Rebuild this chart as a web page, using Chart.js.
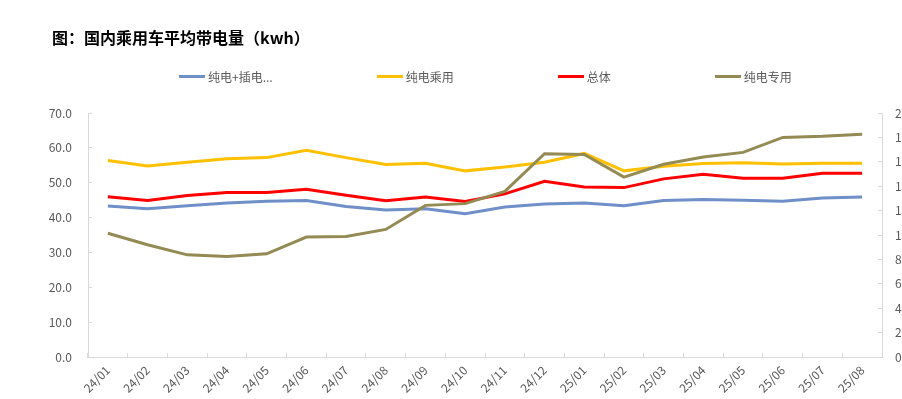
<!DOCTYPE html>
<html>
<head>
<meta charset="utf-8">
<script src="https://cdn.jsdelivr.net/npm/chart.js@4"></script>
<style>
  body { margin: 0; overflow: hidden; background: #fff; }
  #wrap { position: relative; width: 902px; height: 399px; }
  #title {
    position: absolute; left: 52px; top: 27px;
    font: bold 16px "Noto Sans CJK SC", sans-serif; color: #000; line-height: 20px;
  }
  #legend {
    position: absolute; left: 179px; top: 68px;
    display: flex; gap: 104px;
    font: 12px "Noto Sans CJK SC", sans-serif; color: #595959;
  }
  #legend .item { display: flex; align-items: center; white-space: nowrap; }
  #legend .swatch { width: 26px; height: 3px; margin-right: 3px; }
</style>
</head>
<body>
<div id="wrap">
  <canvas id="chart"></canvas>
  <div id="title">图：国内乘用车平均带电量（kwh）</div>
  <div id="legend"></div>
</div>
<script>
// months on the x axis
const categories = ['24/01', '24/02', '24/03', '24/04', '24/05', '24/06', '24/07', '24/08', '24/09', '24/10',
                    '24/11', '24/12', '25/01', '25/02', '25/03', '25/04', '25/05', '25/06', '25/07', '25/08'];

// average battery capacity, kwh
const bevPlusPhev = [43.3, 42.5, 43.4, 44.2, 44.7, 44.9, 43.2, 42.2, 42.5, 41.1,
                     43.0, 43.9, 44.2, 43.4, 44.9, 45.2, 45.0, 44.7, 45.6, 45.9];
const bevPassenger = [56.4, 54.8, 55.9, 56.9, 57.2, 59.3, 57.2, 55.2, 55.6, 53.4,
                      54.5, 55.9, 58.4, 53.4, 54.7, 55.5, 55.7, 55.4, 55.6, 55.6];
const overall = [46.0, 44.9, 46.3, 47.2, 47.2, 48.1, 46.4, 44.8, 45.9, 44.6,
                 46.8, 50.4, 48.8, 48.6, 51.1, 52.4, 51.3, 51.3, 52.7, 52.7];
const bevDedicated = [35.5, 32.2, 29.3, 28.8, 29.6, 34.4, 34.6, 36.6, 43.5, 44.0,
                      47.5, 58.3, 58.1, 51.6, 55.3, 57.4, 58.7, 63.0, 63.3, 63.9];

// axis ranges
const leftAxis = { min: 0, max: 70, step: 10 };
const rightAxis = { min: 0, max: 20, step: 2 };

const series = [
  { label: '纯电+插电...', data: bevPlusPhev, color: '#6f8fc8' },
  { label: '纯电乘用', data: bevPassenger, color: '#ffc000' },
  { label: '总体', data: overall, color: '#ff0000' },
  { label: '纯电专用', data: bevDedicated, color: '#948a54' }
];

const FONT = '"Noto Sans CJK SC", "Noto Sans", sans-serif';
const TEXT = '#595959';
const AXIS = '#d9d9d9';

Chart.defaults.font.family = FONT;
Chart.defaults.color = TEXT;

// legend drawn as plain html
const legendBox = document.getElementById('legend');
series.forEach(s => {
  const item = document.createElement('div');
  item.className = 'item';
  const sw = document.createElement('span');
  sw.className = 'swatch';
  sw.style.background = s.color;
  item.appendChild(sw);
  item.appendChild(document.createTextNode(s.label));
  legendBox.appendChild(item);
});

const datasets = series.map((s, i) => ({
  label: s.label,
  data: s.data,
  borderColor: s.color,
  backgroundColor: s.color,
  borderWidth: 3,
  pointRadius: 0,
  tension: 0,
  order: series.length - 1 - i,
  yAxisID: 'y'
}));

new Chart(document.getElementById('chart'), {
  type: 'line',
  data: { labels: categories, datasets: datasets },
  options: {
    responsive: true,
    maintainAspectRatio: false,
    animation: false,
    layout: { padding: { top: 113, left: 0, right: 0, bottom: 0 } },
    plugins: {
      legend: { display: false },
      tooltip: { enabled: false }
    },
    scales: {
      x: {
        offset: true,
        grid: { offset: true, drawOnChartArea: false, tickLength: -4, color: AXIS },
        border: { color: AXIS },
        ticks: { maxRotation: 45, minRotation: 45, padding: 10, font: { size: 12 }, color: TEXT, autoSkip: false },
        afterFit: s => { s.height = 42; }
      },
      y: {
        position: 'left',
        min: leftAxis.min,
        max: leftAxis.max,
        grid: { drawOnChartArea: false, tickLength: -4, color: AXIS },
        border: { color: AXIS },
        ticks: { stepSize: leftAxis.step, padding: 20, font: { size: 12 }, color: TEXT,
                 callback: v => v.toFixed(1) },
        afterFit: s => { s.width = 88; }
      },
      y2: {
        position: 'right',
        min: rightAxis.min,
        max: rightAxis.max,
        grid: { drawOnChartArea: false, tickLength: -4, color: AXIS },
        border: { color: AXIS },
        ticks: { stepSize: rightAxis.step, padding: 17, font: { size: 12 }, color: TEXT },
        afterFit: s => { s.width = 20; }
      }
    }
  }
});
</script>
</body>
</html>
